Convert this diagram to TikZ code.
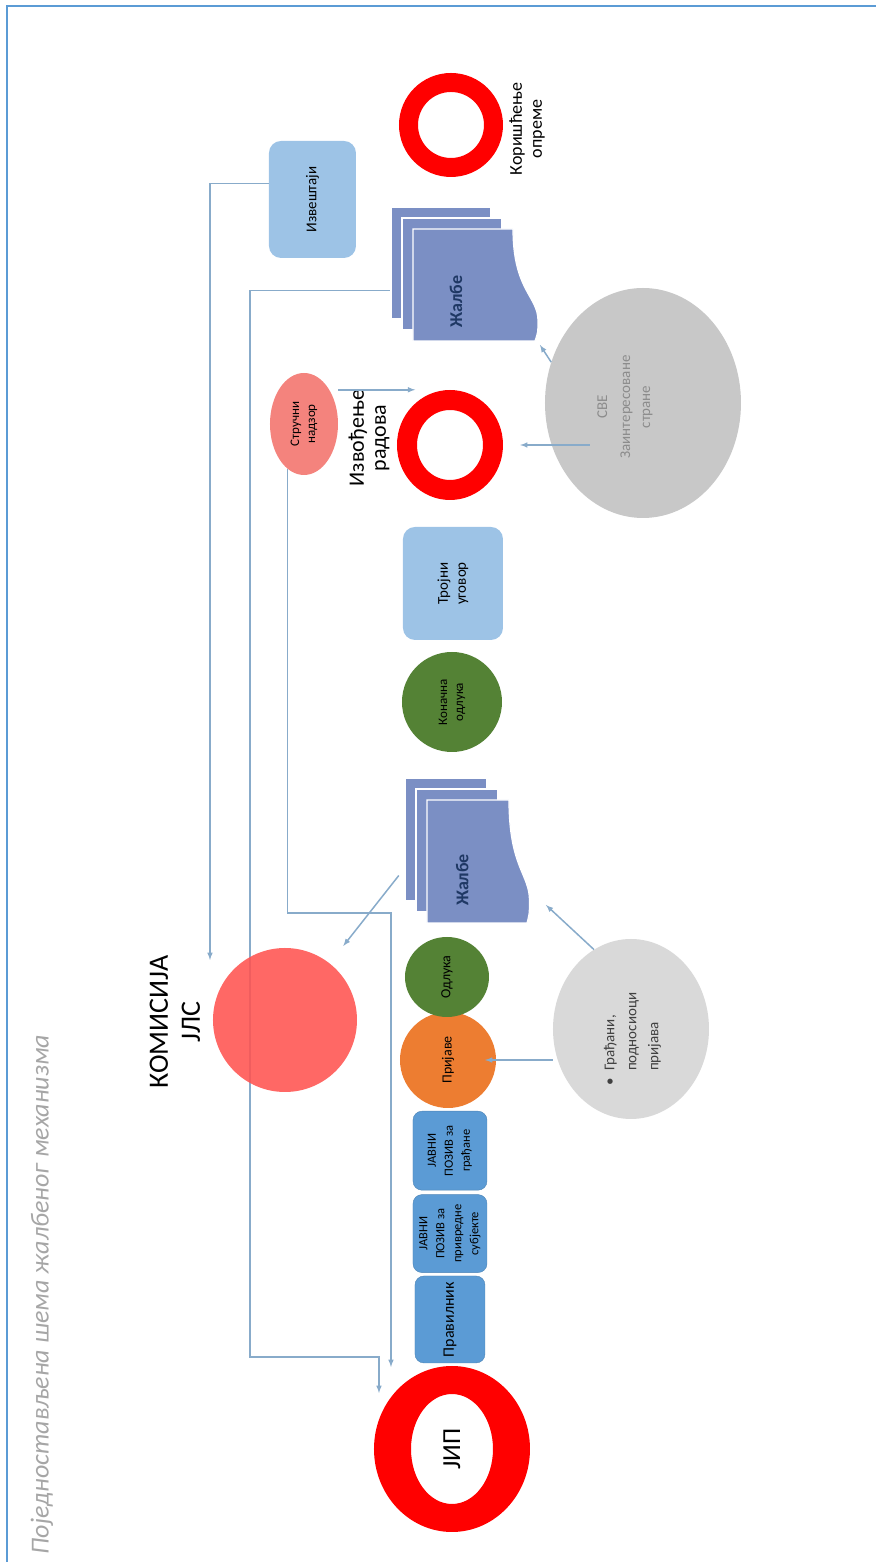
\documentclass[tikz,border=0pt]{standalone}
\usepackage{fontspec}
\setmainfont{Carlito}
\usetikzlibrary{shapes,arrows,positioning,backgrounds}

\definecolor{ringred}{HTML}{FF0000}
\definecolor{komred}{HTML}{FF5350}
\definecolor{nadzorred}{HTML}{F4837D}
\definecolor{boxblue}{HTML}{5B9BD5}
\definecolor{paleblue}{HTML}{9DC3E6}
\definecolor{leafgreen}{HTML}{548235}
\definecolor{tangerine}{HTML}{ED7D31}
\definecolor{docblue}{HTML}{7B8FC4}
\definecolor{docnavy}{HTML}{1F3864}
\definecolor{svegray}{HTML}{C8C8C8}
\definecolor{gradjgray}{HTML}{D9D9D9}
\definecolor{linkblue}{HTML}{88ABCA}
\definecolor{titlegray}{HTML}{A6A6A6}

\tikzset{conn/.style={draw=linkblue, line width=1.5pt, -latex},
frame/.style={draw=boxblue, line width=2.5pt},
ringfill/.style={fill=ringred, even odd rule},
%rounded boxes
bluebox/.style={rectangle, rounded corners=9pt, fill=boxblue, draw=boxblue!85!black, inner sep=2pt, align=center, font=\fontsize{12.5}{17}\selectfont},
palebox/.style={rectangle, rounded corners=12pt, fill=paleblue, align=center, font=\fontsize{15}{18}\selectfont},
bubble/.style={ellipse, inner sep=0pt, align=center, font=\fontsize{14}{17}\selectfont},
docsheet/.style={fill=docblue, draw=white, line width=1.2pt},
doctext/.style={font=\fontsize{18}{20}\selectfont\bfseries, text=docnavy}}

% three stacked sheets, (#2,#3) = top left of the front sheet
\newcommand{\zalbe}[5]{%
  \foreach \off in {22,11}
    \path[docsheet] ({#2+\off},{#3+\off}) rectangle ({#2+#4+\off},{#3-#5+\off});
  \path[docsheet] (#2,#3) -- ({#2+#4},#3) -- ({#2+#4},{#3-#5})
    .. controls ({#2+0.45*#4},{#3-#5}) and ({#2+0.4*#4},{#3-1.25*#5}) .. ({#2+0.18*#4},{#3-1.25*#5})
    .. controls ({#2+0.08*#4},{#3-1.25*#5}) .. (#2,{#3-1.22*#5}) -- cycle;
  \coordinate (#1-top) at ({#2+0.45*#4},{#3+22});
  \node[doctext] (#1) at ({#2+0.35*#4},{#3-0.43*#5}) {Жалбе};
}

\begin{document}
\begin{tikzpicture}[x=1pt, y=1pt, rotate=90, transform shape]
\useasboundingbox (0,0) rectangle (1567,876);

\draw[frame] (5,869) -- (1561,869) -- (1561,0);
\node[anchor=west, font=\fontsize{26}{30}\selectfont\itshape, text=titlegray] (naslov) at (9,834) {Поједностављена шема жалбеног механизма};

% JIP
\node[ellipse, minimum width=166pt, minimum height=156pt, font=\fontsize{26}{30}\selectfont] (jip) at (118,424) {ЈИП};
\fill[ringfill] (jip.center) ellipse [x radius=83, y radius=78] ellipse [x radius=55, y radius=41];

\node[bluebox, minimum width=87pt, minimum height=70pt, font=\fontsize{16}{18}\selectfont] (pravilnik) at (247.5,426) {Правилник};
\node[bluebox, minimum width=78pt, minimum height=74pt, right=3pt of pravilnik] (pozivpriv) {ЈАВНИ\\ПОЗИВ за\\привредне\\субјекте};
\node[bluebox, minimum width=79pt, minimum height=74pt, right=4pt of pozivpriv] (pozivgradj) {ЈАВНИ\\ПОЗИВ за\\грађане};

\node[bubble, fill=tangerine, minimum width=96pt, minimum height=96pt] (prijave) at (507,428) {Пријаве};
\node[bubble, fill=leafgreen, minimum width=80pt, minimum height=84pt] (odluka) at (590,429) {Одлука};

% komisija
\node[align=center, font=\fontsize{28}{32}\selectfont] (komlbl) at (545,701) {КОМИСИЈА\\ЈЛС};
\node[circle, fill=komred, fill opacity=0.88, minimum size=144pt] (kom) at (547,591) {};

\zalbe{zalbeA}{644}{449}{123}{82}
\node[bubble, fill=leafgreen, minimum size=100pt, font=\fontsize{13}{16}\selectfont] (konacna) at (865,424) {Коначна\\одлука};
\node[palebox, minimum width=113pt, minimum height=100pt] (trojni) at (983.5,423) {Тројни\\уговор};

% izvodjenje radova
\node[ellipse, minimum width=110pt, minimum height=106pt] (izvodjenje) at (1122,426) {};
\fill[ringfill] (izvodjenje.center) ellipse [x radius=55, y radius=53] ellipse [x radius=35, y radius=33];
\node[align=center, font=\fontsize{22}{22}\selectfont] (izvlbl) at (1129,507) {Извођење\\радова};
\node[bubble, fill=nadzorred, minimum width=102pt, minimum height=68pt, font=\fontsize{13}{16}\selectfont] (nadzor) at (1143,572) {Стручни\\надзор};

\zalbe{zalbeB}{1226}{463}{112}{100}
\node[palebox, minimum width=117pt, minimum height=87pt] (izvestaji) at (1367.5,563.5) {Извештаји};

% koriscenje opreme
\node[circle, minimum size=104pt] (koriscenje) at (1442,425) {};
\fill[ringfill] (koriscenje.center) circle (52) circle (33);
\node[align=center, font=\fontsize{18}{20}\selectfont] (korlbl) at (1438,349) {Коришћење\\опреме};

\node[bubble, fill=svegray, minimum width=230pt, minimum height=196pt] (sve) at (1164,233) {};
\node[align=center, text=black!45, font=\fontsize{15}{20}\selectfont] (svelbl) at (1160,251) {СВЕ\\[3pt]Заинтересоване\\стране};
\node[bubble, fill=gradjgray, minimum width=180pt, minimum height=156pt] (gradjani) at (538,245) {};
\node[text=black!75, font=\fontsize{15}{22}\selectfont] (gradjlbl) at (528,244)
  {\begin{tabular}{@{}l@{\hspace{7pt}}l@{}}\textbullet & Грађани,\\ & подносиоци\\ & пријава\end{tabular}};

% connectors
\coordinate (kom in) at (607,666);
\coordinate (jip in) at (174,497);
\coordinate (jip top) at (200,485);
\coordinate (zalbeA in) at (662,330);
\coordinate (zalbeB in) at (1222,336);
\coordinate (prijave in) at (507,391);
\coordinate (sve out) at (1122,286);

\begin{scope}[on background layer]
\draw[conn] (zalbeB-top) |- (210,626) |- (jip in);
\end{scope}
\draw[conn] (izvestaji.70) |- (kom in);
\draw[conn] (nadzor.160) -| (654,485) -- (jip top);
\draw[conn, shorten <=10pt, shorten >=22pt] (zalbeA-top) -- (kom);
\draw[conn] (gradjani.25) -- (zalbeA in);
\draw[conn] (gradjani.north -| prijave) -- (prijave in);
\draw[conn, shorten >=17pt] (sve out) -- (izvodjenje.south);
\draw[conn] (sve.66) -- (zalbeB in);
\draw[conn] (nadzor.south -| izvodjenje.east) -- ++(0,-77);

\end{tikzpicture}
\end{document}
